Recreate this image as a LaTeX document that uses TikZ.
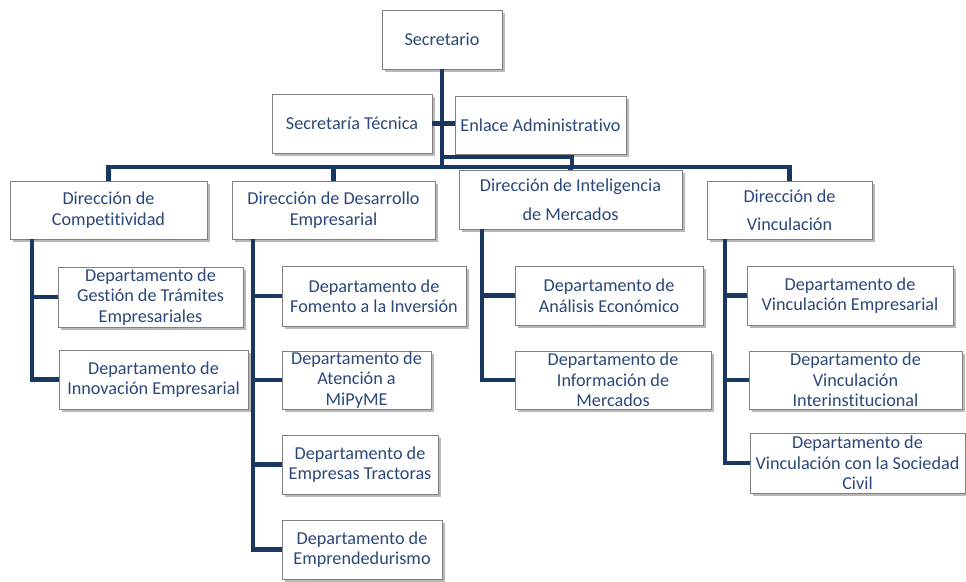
\documentclass[tikz,border=0pt]{standalone}
\usepackage{fontspec}
\setmainfont{Carlito}[Ligatures=NoCommon]
\usetikzlibrary{shadows}
\definecolor{navy}{RGB}{24,56,98}
\definecolor{txtblue}{RGB}{42,72,122}
\definecolor{boxgray}{RGB}{128,128,128}
\begin{document}
\begin{tikzpicture}[x=1pt,y=-1pt,
  orgbox/.style={draw=boxgray, line width=0.8pt, fill=white, align=center, inner sep=0pt,
    text=txtblue, font=\fontsize{18.2}{20.5}\selectfont,
    drop shadow={shadow xshift=2.5pt, shadow yshift=-2.5pt, fill=black, opacity=0.28}},
  conn/.style={draw=navy, line width=4.5pt, line join=miter, line cap=butt}]
\useasboundingbox (0,0) rectangle (966,581);
% top
\node[orgbox, minimum width=120pt, minimum height=59pt] (sec) at (442,39.5) {Secretario};
\node[orgbox, minimum width=160pt, minimum height=59pt] (st) at (352,123.5) {Secretaría Técnica};
\node[orgbox, minimum width=171pt, minimum height=58pt] (ea) at (540.5,125) {Enlace Administrativo};
% direcciones
\node[orgbox, minimum width=197pt, minimum height=58pt] (dc) at (108.5,210) {Dirección de\\Competitividad};
\node[orgbox, minimum width=203pt, minimum height=58pt] (dd) at (333.5,210) {Dirección de Desarrollo\\Empresarial};
\node[orgbox, minimum width=223pt, minimum height=59pt] (di) at (570.5,199.5) {Dirección de Inteligencia\\[8pt]de Mercados};
\node[orgbox, minimum width=165pt, minimum height=58pt] (dv) at (789.5,210) {Dirección de\\[8pt]Vinculación};
% departamentos
\node[orgbox, minimum width=185pt, minimum height=60pt] (g1) at (150.5,297) {Departamento de\\Gestión de Trámites\\Empresariales};
\node[orgbox, minimum width=189pt, minimum height=59pt] (g2) at (153.5,379.5) {Departamento de\\Innovación Empresarial};
\node[orgbox, minimum width=184pt, minimum height=60pt] (f1) at (374,296) {Departamento de\\Fomento a la Inversión};
\node[orgbox, minimum width=149pt, minimum height=58pt] (f2) at (356.5,380) {Departamento de\\Atención a\\MiPyME};
\node[orgbox, minimum width=156pt, minimum height=59pt] (f3) at (360,464.5) {Departamento de\\Empresas Tractoras};
\node[orgbox, minimum width=160pt, minimum height=59pt] (f4) at (362,549.5) {Departamento de\\Emprendedurismo};
\node[orgbox, minimum width=188pt, minimum height=59pt] (a1) at (609,295.5) {Departamento de\\Análisis Económico};
\node[orgbox, minimum width=196pt, minimum height=58pt] (a2) at (613,380) {Departamento de\\Información de\\Mercados};
\node[orgbox, minimum width=206pt, minimum height=59pt] (v1) at (850,295.5) {Departamento de\\Vinculación Empresarial};
\node[orgbox, minimum width=213pt, minimum height=58pt] (v2) at (855.5,380) {Departamento de\\Vinculación\\Interinstitucional};
\node[orgbox, minimum width=215pt, minimum height=60pt] (v3) at (857.5,463) {Departamento de\\Vinculación con la Sociedad\\Civil};
% coordinates
\coordinate (busL) at (108,167);
\coordinate (loopA) at (443,157);
\coordinate (loopB) at (572,157);
\coordinate (loopC) at (572,167);
\coordinate (cL) at (32,239);
\coordinate (dL) at (253,239);
\coordinate (iL) at (482,229);
\coordinate (vL) at (725,239);
% connectors
\draw[conn] (sec.south) -- (sec.south |- busL);
\draw[conn] (st.east) -- (st.east -| ea.west);
\draw[conn] (loopA) -- (loopB) -- (loopC);
\draw[conn] (dc.north) -- (dc.north |- busL) -- (dv.north |- busL) -- (dv.north);
\draw[conn] (dd.north |- busL) -- (dd.north);
\draw[conn] (di.north |- busL) -- (di.north);
\draw[conn] (cL) |- (g2.west);
\draw[conn] (cL |- g1.west) -- (g1.west);
\draw[conn] (dL) |- (f4.west);
\draw[conn] (dL |- f1.west) -- (f1.west);
\draw[conn] (dL |- f2.west) -- (f2.west);
\draw[conn] (dL |- f3.west) -- (f3.west);
\draw[conn] (iL) |- (a2.west);
\draw[conn] (iL |- a1.west) -- (a1.west);
\draw[conn] (vL) |- (v3.west);
\draw[conn] (vL |- v1.west) -- (v1.west);
\draw[conn] (vL |- v2.west) -- (v2.west);
\end{tikzpicture}
\end{document}
